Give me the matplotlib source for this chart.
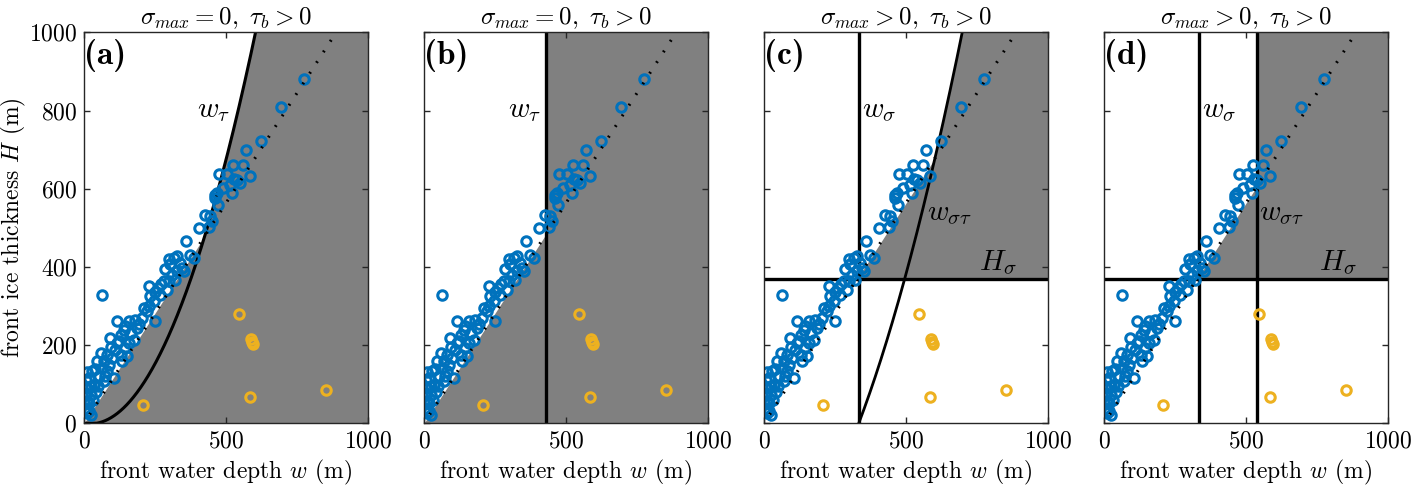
import numpy as np
import matplotlib
matplotlib.use("Agg")
import matplotlib.pyplot as plt

plt.rcParams['font.family'] = 'serif'
plt.rcParams['font.serif'] = ['cmr10']
plt.rcParams['mathtext.fontset'] = 'cm'
plt.rcParams['axes.formatter.use_mathtext'] = True

# ---------------- data ----------------
blue_w = [775, 694, 623, 571, 524, 561, 585, 477, 503, 538, 550, 515, 491, 468, 520, 462,
          474, 462, 427, 444, 450, 442, 360, 386, 374, 327, 316, 302, 339, 345, 327, 310,
          281, 271, 228, 292, 251, 269, 234, 246, 211, 222, 251, 205, 181, 158, 117, 187,
          140, 164, 129, 91, 175, 117, 146, 111, 129, 99, 152, 134, 47, 64, 29, 82,
          105, 53, 18, 70, 35, 12, 6, 23, 12, 18, 6, 26, 64, 70, 88, 41,
          146, 298, 322, 351, 10, 5, 16, 10,
          8, 25, 40, 30, 50, 75, 60, 95, 80, 125, 160, 195, 230, 260, 285, 300, 405, 530]
blue_H = [880, 808, 721, 698, 660, 660, 633, 638, 637, 623, 615, 610, 602, 589, 589, 576,
          559, 585, 534, 530, 517, 502, 465, 424, 431, 429, 424, 407, 409, 397, 389, 380,
          363, 355, 350, 342, 337, 329, 325, 312, 295, 286, 262, 269, 265, 261, 262, 244,
          239, 231, 227, 218, 214, 205, 193, 188, 175, 167, 173, 159, 159, 141, 133, 133,
          116, 120, 116, 107, 99, 90, 73, 73, 56, 31, 39, 22, 329, 159, 150, 81,
          249, 363, 367, 389, 132, 77, 51, 26,
          110, 95, 140, 60, 95, 120, 180, 195, 175, 210, 205, 255, 300, 345, 395, 420, 500, 625]
orange_w = [545, 588, 592, 594, 208, 585, 852]
orange_H = [280, 216, 209, 204, 48, 68, 85]

rho_ratio = 1.125          # flotation slope H = rho_w/rho_i * w
tau_a, tau_b = 0.00295, 0.13      # w_tau curve (panel a): H = a w^2 - b w
w_tau_b = 431              # panel (b) vertical line
w_sigma = 334              # panels (c),(d)
H_sigma = 369
st_a, st_b = 0.00226, 1.917       # w_sigma_tau curve (panel c): H = a d^2 + b d, d = w - w_sigma
w_st_d = 540               # panel (d) vertical line

titles = [r'$\sigma_{max} = 0,\ \tau_b > 0$', r'$\sigma_{max} = 0,\ \tau_b > 0$',
          r'$\sigma_{max} > 0,\ \tau_b > 0$', r'$\sigma_{max} > 0,\ \tau_b > 0$']
panel_labels = ['(a)', '(b)', '(c)', '(d)']
xticks = [0, 500, 1000]
yticks = [0, 200, 400, 600, 800, 1000]

BLUE = '#0072BD'
ORANGE = '#EDB120'
GREY = '#808080'

W, Hpx = 1412, 487
fig = plt.figure(figsize=(W / 100, Hpx / 100), dpi=100)
lefts = [84, 424, 764, 1104]
axes = []
for l in lefts:
    ax = fig.add_axes([l / W, (Hpx - 423.3) / Hpx, 283.7 / W, 391 / Hpx])
    axes.append(ax)

Hs = np.linspace(0, 1000, 2001)


def wtau_inv(H):
    return (tau_b + np.sqrt(tau_b ** 2 + 4 * tau_a * H)) / (2 * tau_a)


def wst_inv(H):
    return w_sigma + (-st_b + np.sqrt(st_b ** 2 + 4 * st_a * H)) / (2 * st_a)


for i, ax in enumerate(axes):
    ax.set_xlim(0, 1000)
    ax.set_ylim(0, 1000)
    flo = Hs / rho_ratio
    if i == 0:
        left = np.minimum(flo, wtau_inv(Hs))
        ax.fill_betweenx(Hs, left, 1000, color=GREY, lw=0, zorder=1)
        ww = np.linspace(0, 700, 1000)
        hh = np.maximum(0, tau_a * ww ** 2 - tau_b * ww)
        ax.plot(ww, hh, color='k', lw=2.2, zorder=3)
        ax.text(516, 783, r'$w_\tau$', fontsize=21, ha='right', va='baseline', zorder=6)
    elif i == 1:
        left = np.minimum(flo, w_tau_b)
        ax.fill_betweenx(Hs, left, 1000, color=GREY, lw=0, zorder=1)
        ax.axvline(w_tau_b, color='k', lw=2.4, zorder=3)
        ax.text(414, 783, r'$w_\tau$', fontsize=21, ha='right', va='baseline', zorder=6)
    else:
        m = Hs >= H_sigma
        if i == 2:
            left = np.maximum(w_sigma, np.minimum(flo, wst_inv(Hs)))
        else:
            left = np.maximum(w_sigma, np.minimum(flo, w_st_d))
        ax.fill_betweenx(Hs[m], left[m], 1000, color=GREY, lw=0, zorder=1)
        ax.axvline(w_sigma, color='k', lw=2.4, zorder=3)
        ax.axhline(H_sigma, color='k', lw=2.4, zorder=3)
        if i == 2:
            dd = np.linspace(0, 420, 800)
            ax.plot(w_sigma + dd, st_a * dd ** 2 + st_b * dd, color='k', lw=2.0, zorder=3)
            ax.text(575, 520, r'$w_{\sigma\tau}$', fontsize=21, ha='left', va='baseline', zorder=6)
        else:
            ax.axvline(w_st_d, color='k', lw=2.4, zorder=3)
            ax.text(547, 520, r'$w_{\sigma\tau}$', fontsize=21, ha='left', va='baseline', zorder=6)
        ax.text(347, 783, r'$w_\sigma$', fontsize=21, ha='left', va='baseline', zorder=6)
        ax.text(891, 392, r'$H_\sigma$', fontsize=21, ha='right', va='baseline', zorder=6)

    # data
    ax.plot(blue_w, blue_H, 'o', ms=6.8, mfc='none', mec=BLUE, mew=2.2, zorder=4)
    ax.plot(orange_w, orange_H, 'o', ms=6.8, mfc='none', mec=ORANGE, mew=2.2, zorder=4)
    # flotation (dotted)
    fw = np.linspace(20, 1000, 500)
    ax.plot(fw, rho_ratio * fw, color='k', lw=2.2, ls=(0, (0.6, 3.55)),
            dash_capstyle='butt', zorder=5)

    ax.set_xticks(xticks)
    ax.set_yticks(yticks)
    ax.tick_params(direction='in', top=True, right=True, length=4, width=1,
                   color='#262626', labelsize=17, pad=5)
    if i > 0:
        ax.set_yticklabels([])
    ax.set_xlabel(r'front water depth $w$ (m)', fontsize=17, labelpad=4)
    ax.set_title(titles[i], fontsize=18, pad=6)
    for s in ax.spines.values():
        s.set_linewidth(1.0)
        s.set_color('#262626')
        s.set_zorder(7)
    ax.text(0.0, 0.982, panel_labels[i], transform=ax.transAxes, family='cmb10',
            fontsize=24, ha='left', va='top', zorder=8)

fig.text(13 / W, (Hpx - 228) / Hpx, r'front ice thickness $H$ (m)', rotation=90,
         fontsize=17, ha='center', va='center')

fig.savefig('out.png', dpi=100)
